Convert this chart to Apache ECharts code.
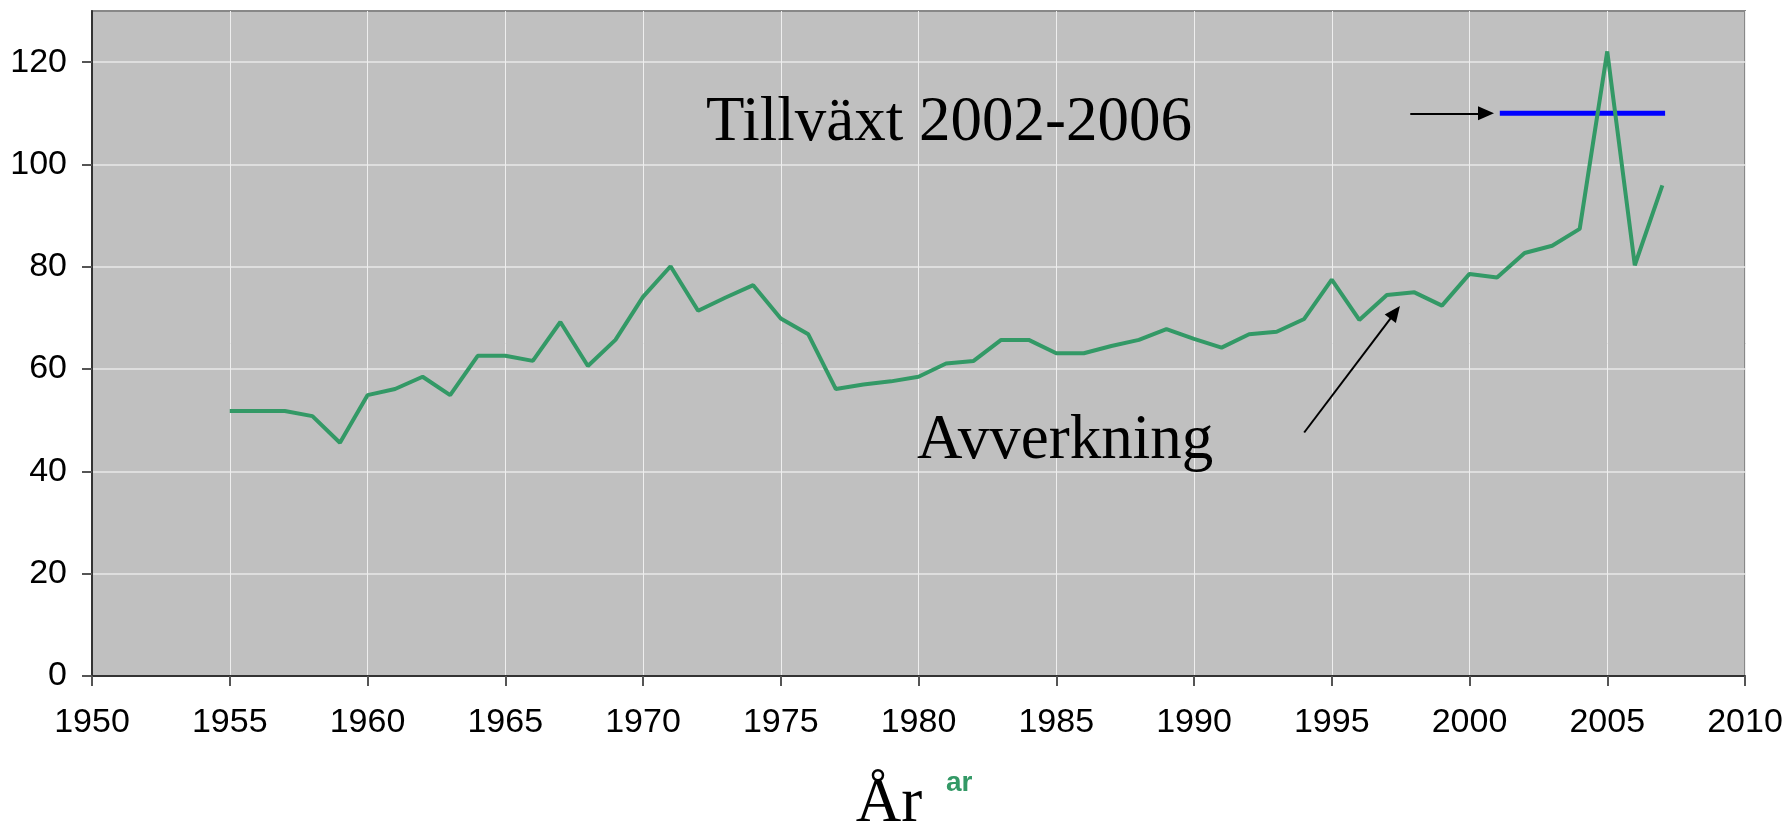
<!DOCTYPE html>
<html>
<head>
<meta charset="utf-8">
<script src="https://cdn.jsdelivr.net/npm/echarts@6/dist/echarts.min.js"></script>
<style>
html, body { margin: 0; padding: 0; background: #fff; }
#main { width: 1787px; height: 825px; }
</style>
</head>
<body>
<div id="main"></div>
<script>
// Avverkning per år (läst ur bilden)
var years = [1955, 1956, 1957, 1958, 1959, 1960, 1961, 1962, 1963, 1964,
             1965, 1966, 1967, 1968, 1969, 1970, 1971, 1972, 1973, 1974,
             1975, 1976, 1977, 1978, 1979, 1980, 1981, 1982, 1983, 1984,
             1985, 1986, 1987, 1988, 1989, 1990, 1991, 1992, 1993, 1994,
             1995, 1996, 1997, 1998, 1999, 2000, 2001, 2002, 2003, 2004,
             2005, 2006, 2007];
var avverkning = [51.8, 51.8, 51.8, 50.8, 45.6, 54.9, 56.1, 58.5, 54.9, 62.6,
                  62.6, 61.6, 69.2, 60.6, 65.7, 74.1, 80.1, 71.4, 74.0, 76.4,
                  69.9, 66.8, 56.1, 57.0, 57.6, 58.5, 61.1, 61.6, 65.7, 65.7,
                  63.1, 63.1, 64.5, 65.7, 67.8, 65.9, 64.2, 66.8, 67.3, 69.8,
                  77.5, 69.6, 74.5, 75.0, 72.4, 78.6, 77.9, 82.7, 84.1, 87.4,
                  122.1, 80.3, 95.9];

// tillväxt-linjen (blå)
var tillvaxtX = [2001.1, 2007.1];
var tillvaxtY = [110, 110];

// pilar: [start, spets]
var arrowTillvaxt = [[1997.85, 110], [2000.6, 110]];
var arrowAvverkning = [[1994.0, 47.6], [1997.3, 71.1]];

var yTicks = [0, 20, 40, 60, 80, 100, 120];

var lineData = [];
for (var i = 0; i < years.length; i++) lineData.push([years[i], avverkning[i]]);
var blueData = [];
for (var j = 0; j < tillvaxtX.length; j++) blueData.push([tillvaxtX[j], tillvaxtY[j]]);

function arrowLine(a) {
    return [{ coord: a[0], symbol: 'none' }, { coord: a[1], symbol: 'triangle' }];
}

var chart = echarts.init(document.getElementById('main'), null, { renderer: 'canvas' });

var option = {
    animation: false,
    backgroundColor: '#ffffff',
    grid: {
        left: 92, right: 42, top: 11, bottom: 149,
        show: true,
        backgroundColor: '#c0c0c0',
        borderColor: '#888888',
        borderWidth: 2,
        outerBoundsMode: 'none'
    },
    xAxis: {
        type: 'value',
        min: 1950, max: 2010, interval: 5,
        axisLine: { onZero: false, lineStyle: { color: '#333', width: 2 } },
        axisTick: { show: true, length: 10, lineStyle: { color: '#555', width: 2 } },
        axisLabel: {
            margin: 30, color: '#000', fontSize: 34,
            fontFamily: '"Liberation Sans", Arial, sans-serif',
            showMinLabel: true, showMaxLabel: true,
            formatter: function (v) { return String(v); }
        },
        splitLine: { show: true, lineStyle: { color: '#eeeeee', width: 1 } }
    },
    yAxis: {
        type: 'value',
        min: 0, max: 130,
        axisLine: { show: true, lineStyle: { color: '#333', width: 2 } },
        axisTick: { show: true, length: 10, customValues: yTicks, lineStyle: { color: '#555', width: 2 } },
        axisLabel: {
            margin: 25, color: '#000', fontSize: 34,
            fontFamily: '"Liberation Sans", Arial, sans-serif',
            customValues: yTicks
        },
        splitLine: { show: true, lineStyle: { color: '#e8e8e8', width: 1.5 } }
    },
    series: [
        {
            name: 'Tillväxt 2002-2006',
            type: 'line',
            data: blueData,
            symbol: 'none',
            lineStyle: { color: '#0000ff', width: 5, cap: 'butt' },
            markLine: {
                silent: true,
                symbolSize: [14, 16],
                label: { show: false },
                lineStyle: { color: '#000', width: 2, type: 'solid' },
                data: [arrowLine(arrowTillvaxt), arrowLine(arrowAvverkning)]
            },
            z: 2
        },
        {
            name: 'Avverkning',
            type: 'line',
            data: lineData,
            symbol: 'none',
            lineStyle: { color: '#339966', width: 4 },
            z: 3
        }
    ],
    graphic: [
        {
            type: 'text', x: 706, y: 123, z: 10,
            style: {
                text: 'Tillväxt 2002-2006', fill: '#000',
                font: '63px "Liberation Serif", "Times New Roman", serif',
                verticalAlign: 'middle'
            }
        },
        {
            type: 'text', x: 917, y: 441, z: 10,
            style: {
                text: 'Avverkning', fill: '#000',
                font: '63px "Liberation Serif", "Times New Roman", serif',
                verticalAlign: 'middle'
            }
        },
        {
            type: 'text', x: 889, y: 804, z: 10,
            style: {
                text: 'År', fill: '#000', align: 'center',
                font: '63px "Liberation Serif", "Times New Roman", serif',
                verticalAlign: 'middle'
            }
        },
        {
            type: 'text', x: 946, y: 783, z: 10,
            style: {
                text: 'ar', fill: '#339966',
                font: 'bold 28px "Liberation Sans", Arial, sans-serif',
                verticalAlign: 'middle'
            }
        }
    ]
};

chart.setOption(option);
</script>
</body>
</html>
